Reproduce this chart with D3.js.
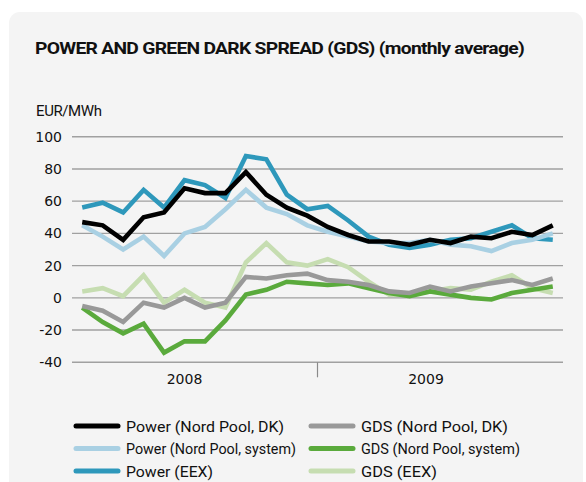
<!DOCTYPE html>
<html>
<head>
<meta charset="utf-8">
<script src="https://cdn.jsdelivr.net/npm/d3@7"></script>
<style>
  html, body { margin: 0; padding: 0; background: #ffffff; }
  svg { display: block; }
</style>
</head>
<body>
<svg id="chart" width="586" height="482"></svg>
<script>
// Months Jan 2008 – Dec 2009
const months = [
  "2008-01","2008-02","2008-03","2008-04","2008-05","2008-06",
  "2008-07","2008-08","2008-09","2008-10","2008-11","2008-12",
  "2009-01","2009-02","2009-03","2009-04","2009-05","2009-06",
  "2009-07","2009-08","2009-09","2009-10","2009-11","2009-12"
];
const years = ["2008", "2009"];
const yTicks = [-40, -20, 0, 20, 40, 60, 80, 100];

// Monthly averages, EUR/MWh
const powerNordPoolDK = [47, 45, 36, 50, 53, 68, 65, 65, 78, 64, 56, 51, 44, 39, 35, 35, 33, 36, 34, 38, 37, 41, 39, 45];
const powerNordPoolSystem = [45, 38, 30, 38, 26, 40, 44, 55, 67, 56, 52, 45, 41, 38, 35, 34, 34, 36, 33, 32, 29, 34, 36, 40];
const powerEEX = [56, 59, 53, 67, 56, 73, 70, 62, 88, 86, 64, 55, 57, 48, 38, 33, 31, 33, 36, 37, 41, 45, 37, 36];
const gdsNordPoolDK = [-5, -8, -15, -3, -6, 0, -6, -3, 13, 12, 14, 15, 11, 10, 8, 4, 3, 7, 4, 7, 9, 11, 8, 12];
const gdsNordPoolSystem = [-6, -15, -22, -16, -34, -27, -27, -14, 2, 5, 10, 9, 8, 9, 6, 3, 1, 4, 2, 0, -1, 3, 5, 7];
const gdsEEX = [4, 6, 1, 14, -3, 5, -3, -6, 22, 34, 22, 20, 24, 19, 10, 2, 2, 4, 6, 5, 10, 14, 6, 3];

const seriesNames = [
  "Power (Nord Pool, DK)", "GDS (Nord Pool, DK)",
  "Power (Nord Pool, system)", "GDS (Nord Pool, system)",
  "Power (EEX)", "GDS (EEX)"
];
const seriesValues = [powerNordPoolDK, gdsNordPoolDK, powerNordPoolSystem, gdsNordPoolSystem, powerEEX, gdsEEX];
const seriesColors = ["#000000", "#999999", "#a9d0e3", "#5aaa3c", "#2e98bb", "#c6ddb1"];
// painting order, bottom to top
const drawOrder = [4, 5, 2, 3, 0, 1];
// set widths of the legend labels (px); the long middle row is squeezed
const legendLabelWidths = [158, 147, 170, 159, 87, 76];

const svg = d3.select("#chart");

// card background
svg.append("rect")
  .attr("x", 9).attr("y", 12)
  .attr("width", 574).attr("height", 480)
  .attr("rx", 11)
  .attr("fill", "#f4f4f4");

svg.append("text")
  .attr("x", 35).attr("y", 54)
  .attr("font-family", "Roboto, 'DejaVu Sans', sans-serif")
  .attr("font-weight", "bold")
  .attr("font-size", 16)
  .attr("letter-spacing", -0.6)
  .attr("textLength", 489)
  .attr("lengthAdjust", "spacingAndGlyphs")
  .attr("fill", "#111")
  .text("POWER AND GREEN DARK SPREAD (GDS) (monthly average)");

svg.append("text")
  .attr("x", 36).attr("y", 116)
  .attr("font-family", "Roboto, 'DejaVu Sans', sans-serif")
  .attr("font-size", 15)
  .attr("letter-spacing", -0.4)
  .attr("fill", "#111")
  .text("EUR/MWh");

const x = d3.scaleBand().domain(months).range([72, 563]).paddingInner(0).paddingOuter(0);
const cx = m => x(m) + x.bandwidth() / 2;
const y = d3.scaleLinear().domain([-40, 100]).range([362.3, 136.7]);

// horizontal gridlines
svg.append("g")
  .selectAll("line")
  .data(yTicks)
  .join("line")
  .attr("x1", x.range()[0]).attr("x2", x.range()[1])
  .attr("y1", d => y(d)).attr("y2", d => y(d))
  .attr("stroke", "#a0a0a0")
  .attr("stroke-width", 1.4);

// y-axis labels
svg.append("g")
  .selectAll("text")
  .data(yTicks)
  .join("text")
  .attr("x", 62)
  .attr("y", d => y(d))
  .attr("dy", "0.36em")
  .attr("text-anchor", "end")
  .attr("font-family", "'DejaVu Sans', Verdana, sans-serif")
  .attr("font-size", 14)
  .attr("fill", "#111")
  .text(d => d);

// year divider tick
const divX = x(months[12]);
svg.append("line")
  .attr("x1", divX).attr("x2", divX)
  .attr("y1", y(-40)).attr("y2", y(-40) + 15)
  .attr("stroke", "#8a8a8a")
  .attr("stroke-width", 1.2);

// year labels
svg.append("g")
  .selectAll("text")
  .data(years)
  .join("text")
  .attr("x", (d, i) => cx(months[i * 12 + 5]) + (i === 0 ? 0 : -4))
  .attr("y", y(-40) + 22)
  .attr("text-anchor", "middle")
  .attr("font-family", "'DejaVu Sans', Verdana, sans-serif")
  .attr("font-size", 14)
  .attr("fill", "#111")
  .text(d => d);

// series lines
const line = d3.line()
  .x((d, i) => cx(months[i]))
  .y(d => y(d));

svg.append("g")
  .selectAll("path")
  .data(drawOrder)
  .join("path")
  .attr("d", k => line(seriesValues[k]))
  .attr("fill", "none")
  .attr("stroke", k => seriesColors[k])
  .attr("stroke-width", 4.6)
  .attr("stroke-linejoin", "miter")
  .attr("stroke-miterlimit", 3);

// legend: two columns, three rows
const legend = svg.append("g");
const legendItems = legend.selectAll("g")
  .data(seriesNames.map((name, i) => ({ name, i })))
  .join("g")
  .attr("transform", d => {
    const col = d.i % 2, row = Math.floor(d.i / 2);
    return `translate(${76 + col * 235},${426 + row * 22.5})`;
  });

legendItems.append("line")
  .attr("x1", 0).attr("x2", 42)
  .attr("y1", 0).attr("y2", 0)
  .attr("stroke", d => seriesColors[d.i])
  .attr("stroke-width", 5)
  .attr("stroke-linecap", "round");

legendItems.append("text")
  .attr("x", 50)
  .attr("y", 0)
  .attr("dy", "0.36em")
  .attr("font-family", "Roboto, 'DejaVu Sans', sans-serif")
  .attr("font-size", 15.5)
  .attr("textLength", d => legendLabelWidths[d.i])
  .attr("lengthAdjust", "spacingAndGlyphs")
  .attr("fill", "#111")
  .text(d => d.name);
</script>
</body>
</html>
